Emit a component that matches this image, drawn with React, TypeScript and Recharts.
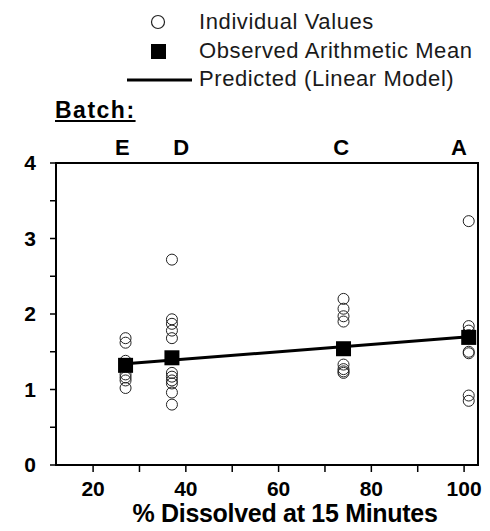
import { ReferenceArea, Scatter, ScatterChart, XAxis, YAxis } from "recharts";

const font = '"Liberation Sans", Arial, sans-serif';

// batches, their % dissolved at 15 min, and where the letters sit on top
const batches = ["E", "D", "C", "A"];
const batchX = [27, 37, 74, 101];
const batchLabelX = [26.3, 39, 73.5, 98.9];

// individual values per batch (same order as batches)
const valuesE = [1.68, 1.62, 1.38, 1.33, 1.2, 1.16, 1.12, 1.02];
const valuesD = [2.72, 1.93, 1.87, 1.78, 1.68, 1.22, 1.17, 1.12, 1.08, 0.96, 0.8];
const valuesC = [2.2, 2.07, 1.97, 1.9, 1.33, 1.27, 1.24, 1.22];
const valuesA = [3.23, 1.84, 1.78, 1.72, 1.5, 1.48, 0.92, 0.85];
const batchValues = [valuesE, valuesD, valuesC, valuesA];

const means = [1.32, 1.42, 1.54, 1.69];

const predictedX = [27, 101];
const predictedY = [1.34, 1.7];

const xTicks = [20, 30, 40, 50, 60, 70, 80, 90, 100];
const yTicks = [0, 0.5, 1, 1.5, 2, 2.5, 3, 3.5, 4];

const individual = batchX.flatMap((x, i) => batchValues[i].map((y) => ({ x, y })));
const meanData = batchX.map((x, i) => ({ x, y: means[i] }));
const predicted = predictedX.map((x, i) => ({ x, y: predictedY[i] }));

const tickStyle = { fontSize: 21, fontWeight: 700, fill: "#000", fontFamily: font };

const OpenCircle = (p: any) => (
  <circle cx={p.cx} cy={p.cy} r={5.5} fill="none" stroke="#222" strokeWidth={1} />
);
const MeanSquare = (p: any) => (
  <rect x={p.cx - 7.5} y={p.cy - 7.5} width={15} height={15} fill="#000" />
);
const Nothing = () => <g />;

function LegendBlock() {
  const row = { position: "absolute" as const, left: 199, fontSize: 22, letterSpacing: 0.6, color: "#1a1a1a", lineHeight: "24px" };
  return (
    <>
      <svg width={200} height={95} style={{ position: "absolute", left: 0, top: 0 }}>
        <circle cx={158} cy={22} r={6.5} fill="none" stroke="#222" strokeWidth={1.2} />
        <rect x={151} y={44} width={15} height={15} fill="#000" />
        <line x1={127} y1={80} x2={192} y2={80} stroke="#000" strokeWidth={3} />
      </svg>
      <div style={{ ...row, top: 10 }}>Individual Values</div>
      <div style={{ ...row, top: 39 }}>Observed Arithmetic Mean</div>
      <div style={{ ...row, top: 67 }}>Predicted (Linear Model)</div>
      <div
        style={{
          position: "absolute",
          left: 55,
          top: 97,
          fontSize: 23,
          fontWeight: 900,
          letterSpacing: 1.5,
          textDecoration: "underline",
          textUnderlineOffset: 2,
          lineHeight: "26px",
        }}
      >
        Batch:
      </div>
    </>
  );
}

export default function App() {
  return (
    <div style={{ position: "absolute", left: 0, top: 0, width: 490, height: 531, fontFamily: font, background: "#fff" }}>
      <LegendBlock />
      <ScatterChart width={490} height={531} margin={{ top: 130, right: 12, bottom: 0, left: 0 }}>
        <XAxis
          type="number"
          dataKey="x"
          domain={[12, 103]}
          ticks={xTicks}
          interval={0}
          allowDataOverflow
          height={66}
          tickSize={7}
          tickMargin={9}
          tickFormatter={(v: number) => (v % 20 === 0 ? String(v) : "")}
          tick={tickStyle}
          axisLine={{ stroke: "#000", strokeWidth: 2 }}
          tickLine={{ stroke: "#000", strokeWidth: 1.5 }}
        />
        <XAxis
          xAxisId="top"
          orientation="top"
          type="number"
          dataKey="x"
          domain={[12, 103]}
          ticks={batchLabelX}
          interval={0}
          allowDataOverflow
          height={33}
          axisLine={false}
          tickLine={false}
          tickFormatter={(v: number) => batches[batchLabelX.indexOf(v)] ?? ""}
          tick={{ ...tickStyle, fontSize: 22, fontWeight: 900 }}
        />
        <YAxis
          type="number"
          dataKey="y"
          domain={[0, 4]}
          ticks={yTicks}
          interval={0}
          width={56}
          tickSize={6}
          tickMargin={14}
          tickFormatter={(v: number) => (Number.isInteger(v) ? String(v) : "")}
          tick={tickStyle}
          axisLine={{ stroke: "#000", strokeWidth: 2 }}
          tickLine={{ stroke: "#000", strokeWidth: 1.5 }}
        />
        <ReferenceArea x1={12} x2={103} y1={0} y2={4} fill="none" fillOpacity={0} stroke="#000" strokeWidth={2} />
        <Scatter data={individual} shape={OpenCircle} isAnimationActive={false} />
        <Scatter
          data={predicted}
          shape={Nothing}
          line={{ stroke: "#000", strokeWidth: 3 }}
          isAnimationActive={false}
        />
        <Scatter data={meanData} shape={MeanSquare} isAnimationActive={false} />
        {/* binds the top (batch letter) axis so it gets drawn */}
        <Scatter xAxisId="top" data={meanData} shape={Nothing} isAnimationActive={false} />
      </ScatterChart>
      <div
        style={{
          position: "absolute",
          left: 0,
          width: 570,
          top: 499,
          textAlign: "center",
          fontSize: 25,
          fontWeight: 700,
          letterSpacing: -0.3,
          lineHeight: "28px",
        }}
      >
        % Dissolved at 15 Minutes
      </div>
    </div>
  );
}
